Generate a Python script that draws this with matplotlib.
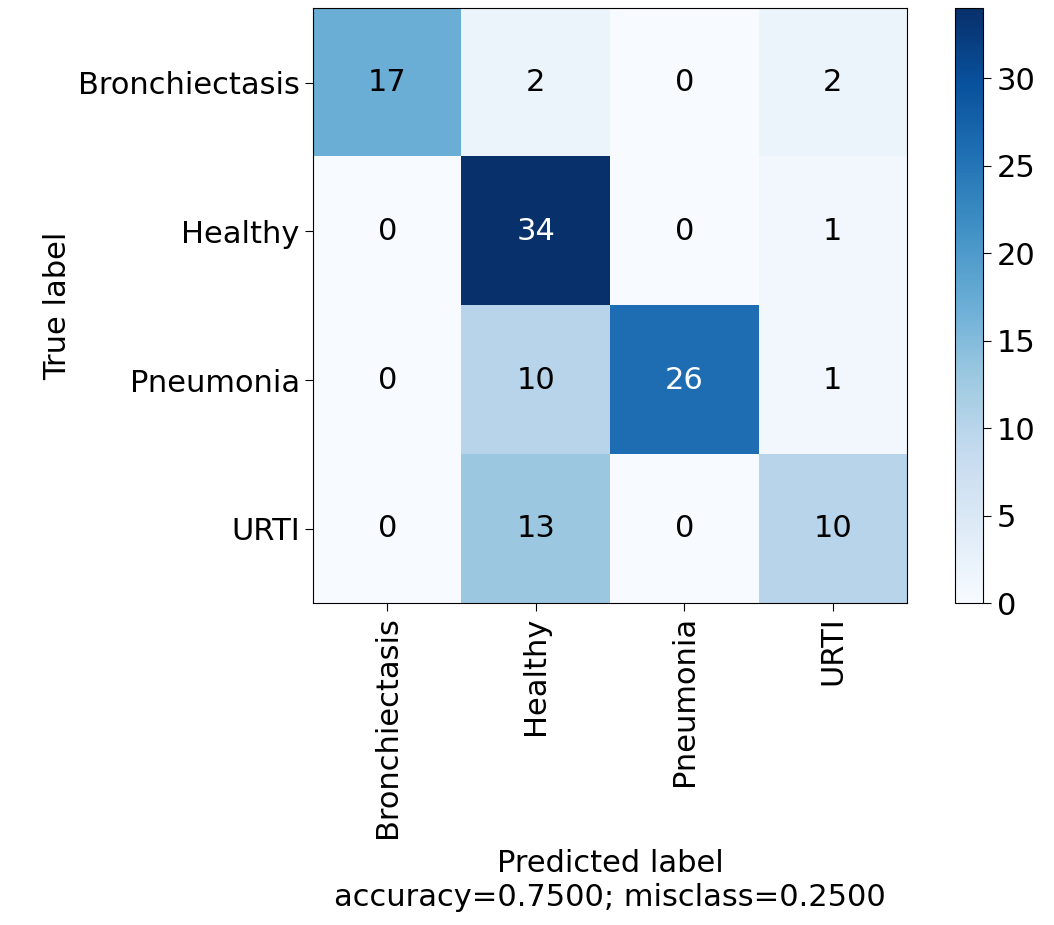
import numpy as np
import matplotlib
matplotlib.use("Agg")
import matplotlib.pyplot as plt

# confusion matrix data
labels = ["Bronchiectasis", "Healthy", "Pneumonia", "URTI"]
row_bronch = [17, 2, 0, 2]
row_healthy = [0, 34, 0, 1]
row_pneu = [0, 10, 26, 1]
row_urti = [0, 13, 0, 10]

cm = np.array([row_bronch, row_healthy, row_pneu, row_urti])
accuracy = np.trace(cm) / cm.sum()
misclass = 1 - accuracy

fs = 22
fig = plt.figure(figsize=(10.54, 9.25), dpi=100)
ax = fig.add_axes([0.297, 0.348, 0.5636, 0.643])
cax = fig.add_axes([0.906, 0.348, 0.027, 0.643])

im = ax.imshow(cm, interpolation="nearest", cmap=plt.cm.Blues, aspect="auto")
cb = fig.colorbar(im, cax=cax)
cb.ax.tick_params(labelsize=fs, length=6)

ticks = np.arange(len(labels))
ax.set_xticks(ticks)
ax.set_xticklabels(labels, rotation=90, fontsize=fs)
ax.set_yticks(ticks)
ax.set_yticklabels(labels, fontsize=fs)
ax.tick_params(length=6)

thresh = cm.max() / 1.5
for i in range(cm.shape[0]):
    for j in range(cm.shape[1]):
        ax.text(j, i, f"{cm[i, j]:,}", ha="center", va="center", fontsize=fs,
                color="white" if cm[i, j] > thresh else "black")

ax.set_ylabel("True label", fontsize=fs)
ax.set_xlabel(f"Predicted label\naccuracy={accuracy:0.4f}; misclass={misclass:0.4f}",
              fontsize=fs, labelpad=8)

fig.savefig("out.png", dpi=100)
